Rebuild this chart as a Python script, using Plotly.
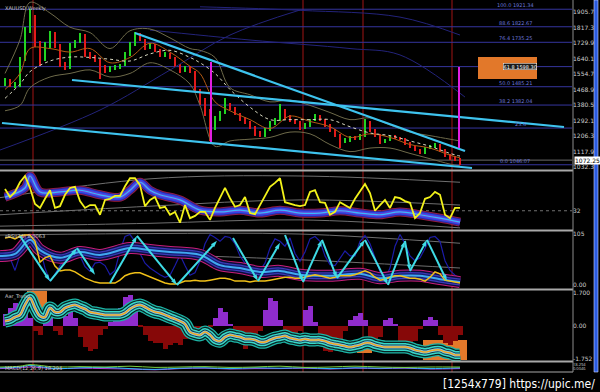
import plotly.graph_objects as go

W, H = 600, 392
XR = [-1, 113.4]

def py(px):
    return 1 - px / H

# ---------------- main price panel (weekly XAUUSD, one entry per bar) ----------------
opens = [1500, 1520, 1495, 1490, 1640, 1800, 1880, 1720, 1645, 1715, 1785, 1715, 1610, 1595, 1715, 1740,
         1770, 1665, 1655, 1630, 1595, 1578, 1588, 1592, 1610, 1668, 1722, 1772, 1748, 1702, 1718, 1692,
         1660, 1668, 1648, 1608, 1578, 1592, 1568, 1462, 1398, 1352, 1255, 1308, 1338, 1382, 1362, 1332,
         1308, 1282, 1255, 1228, 1212, 1242, 1278, 1300, 1355, 1312, 1300, 1285, 1255, 1268, 1296, 1318,
         1300, 1268, 1238, 1212, 1178, 1188, 1202, 1192, 1212, 1282, 1238, 1212, 1172, 1188, 1205, 1198,
         1192, 1165, 1148, 1126, 1115, 1142, 1148, 1158, 1126, 1098, 1088, 1078]
closes = [1520, 1495, 1500, 1635, 1800, 1890, 1720, 1640, 1720, 1790, 1720, 1605, 1590, 1720, 1735, 1775,
          1665, 1650, 1635, 1590, 1580, 1590, 1590, 1605, 1665, 1720, 1775, 1750, 1700, 1720, 1690, 1665,
          1665, 1650, 1605, 1580, 1590, 1570, 1465, 1400, 1355, 1250, 1310, 1340, 1380, 1365, 1335, 1310,
          1285, 1258, 1225, 1215, 1240, 1280, 1298, 1360, 1310, 1298, 1287, 1258, 1270, 1298, 1315, 1298,
          1270, 1240, 1215, 1180, 1185, 1200, 1195, 1215, 1280, 1240, 1215, 1175, 1185, 1200, 1200, 1195,
          1168, 1145, 1128, 1117, 1140, 1145, 1160, 1128, 1100, 1085, 1075, 1072]
highs = [1535, 1530, 1510, 1650, 1820, 1921, 1890, 1740, 1735, 1800, 1795, 1725, 1625, 1730, 1750, 1790,
         1780, 1680, 1665, 1640, 1605, 1600, 1605, 1615, 1680, 1735, 1795, 1785, 1755, 1730, 1725, 1700,
         1680, 1675, 1655, 1615, 1600, 1600, 1575, 1475, 1420, 1360, 1320, 1350, 1420, 1395, 1370, 1340,
         1315, 1290, 1262, 1235, 1255, 1290, 1310, 1390, 1360, 1325, 1305, 1292, 1280, 1305, 1330, 1325,
         1305, 1275, 1245, 1220, 1195, 1208, 1210, 1222, 1305, 1290, 1245, 1220, 1192, 1208, 1212, 1205,
         1198, 1172, 1152, 1132, 1148, 1155, 1168, 1165, 1132, 1105, 1095, 1085]
lows = [1490, 1485, 1478, 1485, 1630, 1790, 1710, 1600, 1630, 1705, 1705, 1595, 1580, 1585, 1705, 1730,
        1655, 1640, 1625, 1530, 1565, 1570, 1580, 1585, 1600, 1660, 1715, 1740, 1690, 1695, 1680, 1655,
        1650, 1640, 1595, 1565, 1570, 1560, 1455, 1380, 1320, 1180, 1240, 1295, 1330, 1355, 1325, 1295,
        1275, 1245, 1210, 1200, 1205, 1235, 1270, 1290, 1300, 1285, 1275, 1240, 1250, 1260, 1290, 1290,
        1260, 1230, 1200, 1140, 1170, 1175, 1185, 1185, 1205, 1230, 1205, 1165, 1170, 1180, 1190, 1185,
        1160, 1138, 1122, 1108, 1105, 1132, 1140, 1120, 1090, 1075, 1065, 1046]
bars = list(range(len(closes)))

# indicator lines on the price panel (coarse samples)
ind_x = [0, 3, 5, 9, 13, 17, 21, 25, 29, 33, 37, 39, 42, 45, 49, 53, 57, 61, 65, 69, 73, 77, 81, 85, 89, 91]
bb_upper = [1560, 1750, 1960, 1900, 1820, 1790, 1700, 1800, 1810, 1760, 1700, 1690, 1650, 1480, 1440, 1400,
            1410, 1380, 1340, 1300, 1310, 1270, 1230, 1210, 1190, 1180]
bb_lower = [1350, 1380, 1480, 1540, 1560, 1580, 1540, 1560, 1620, 1580, 1500, 1380, 1150, 1180, 1190, 1200,
            1230, 1220, 1160, 1120, 1140, 1140, 1110, 1080, 1050, 1040]
ma_slow = [1420, 1500, 1570, 1630, 1652, 1650, 1640, 1630, 1670, 1690, 1650, 1620, 1560, 1470, 1370, 1300,
           1300, 1300, 1300, 1260, 1225, 1210, 1180, 1150, 1110, 1095]
ma_fast = [1470, 1560, 1700, 1700, 1680, 1700, 1620, 1650, 1730, 1680, 1600, 1560, 1400, 1350, 1300, 1250,
           1320, 1290, 1260, 1200, 1220, 1200, 1160, 1140, 1100, 1085]

navy_a_x = [-1, 19, 33, 45, 59]
navy_a = [1129, 1354, 1579, 1776, 1917]
navy_b_x = [39, 59, 79, 91]
navy_b = [1935, 1915, 1877, 1776]
navy_c_x = [29, 49, 69, 79, 92]
navy_c = [1804, 1748, 1700, 1664, 1427]

fib_pct = ["100.0", "88.6", "76.4", "61.8", "50.0", "38.2", "23.6", "0.0"]
fib_price = [1921.34, 1822.67, 1735.25, 1598.30, 1485.21, 1382.04, 1252.63, 1046.07]
fib_show_price = [True, True, True, True, True, True, False, True]

# trend lines: (x0, y0, x1, y1) in bars / price
trend_lines = [(26, 1787.5, 92, 1123.5),
               (13.4, 1523.1, 111.8, 1258.6),
               (-0.6, 1281.1, 93.4, 1027.9)]
magenta_lines = [(41.2, 1624, 1174), (90.8, 1596, 1140)]
red_vlines = [5.6, 59.6, 71.6, 89.4]
target_box = (94.6, 106.4, 1528.7, 1652.5)
last_price = 1072.25

price_ticks = [1905.70, 1817.30, 1729.90, 1640.10, 1554.70, 1468.90, 1380.50, 1292.10, 1206.30, 1117.90, 1032.30]

# ---------------- panel 2 oscillator ----------------
osc_yellow = [70, 56, 65, 82, 93, 72, 44, 37, 53, 68, 37, 40, 60, 72, 74, 49, 37, 42, 42, 25, 51, 53, 58, 58,
              75, 89, 89, 77, 40, 51, 56, 37, 39, 25, 30, 11, 42, 19, 23, 30, 30, 16, 37, 54, 72, 54, 39, 42,
              56, 28, 26, 42, 58, 74, 81, 89, 47, 44, 42, 40, 42, 65, 68, 47, 46, 25, 30, 47, 42, 37, 53, 65,
              79, 63, 32, 42, 51, 37, 56, 54, 49, 46, 19, 28, 53, 56, 65, 60, 25, 19, 37, 37]
osc_band_x = [0, 4, 5, 7, 11, 15, 19, 23, 25, 27, 29, 31, 35, 39, 43, 47, 51, 55, 59, 63, 67, 71, 75, 79, 83, 87, 91]
osc_band = [56, 72, 93, 65, 65, 68, 60, 56, 68, 82, 68, 60, 51, 33, 30, 33, 28, 33, 28, 28, 32, 28, 25, 30, 25, 19, 12]
osc_chan_x = [-1, 29, 59, 91]
osc_chan_top = [55, 88, 93, 82]
osc_chan_mid = [25, 40, 51, 42]
osc_chan_bot = [5, 10, 16, 2]
osc_level = 32

# ---------------- panel 3 sRSI ----------------
srsi_navy = [49, 56, 30, 62, 78, 98, 100, 75, 35, 8, 22, 40, 52, 65, 76, 60, 38, 28, 45, 47, 40, 21, 30, 70,
             100, 104, 90, 65, 45, 35, 28, 21, 16, 20, 40, 62, 40, 20, 25, 49, 85, 104, 98, 90, 100, 98, 85, 60,
             45, 28, 22, 30, 45, 76, 95, 90, 80, 97, 65, 49, 68, 95, 100, 90, 60, 42, 40, 56, 70, 60, 60, 90,
             102, 85, 55, 28, 12, 35, 80, 104, 85, 60, 50, 56, 75, 98, 100, 90, 50, 30, 20, 14]
srsi_gold = [97, 99, 95, 101, 103, 103, 90, 47, 56, 60, 39, 29, 31, 31, 27, 21, 14, 10, 6, 4, 4, 4, 4, 10,
             19, 23, 25, 25, 21, 16, 12, 8, 4, 2, 2, 4, 8, 8, 10, 8, 8, 10, 12, 14, 14, 12, 8, 8, 8, 6, 8, 8,
             8, 10, 12, 14, 16, 16, 14, 14, 16, 19, 21, 19, 16, 14, 16, 19, 19, 19, 21, 25, 29, 25, 16, 10, 12,
             16, 19, 19, 16, 14, 14, 12, 8, 16, 27, 23, 10, 8, 6, 4]
srsi_band_x = [-1, 2, 5, 7, 11, 15, 19, 25, 29, 33, 39, 43, 47, 51, 55, 59, 65, 71, 75, 79, 83, 87, 91]
srsi_band = [60, 64, 93, 72, 56, 68, 62, 76, 72, 68, 62, 41, 35, 27, 29, 21, 19, 23, 14, 19, 19, 12, 6]
zig_x = [3, 9, 14.4, 18, None, 21, 26.4, 34.4, 42.4, None, 45.6, 50.6, 55, None,
         56, 59.6, 63.4, 66.4, 72, 76.6, 80, 81, 84.4, 88.4]
zig_y = [101, 8, 76, 21, None, 4, 101, 0, 91, None, 97, 8, 87, None,
         103, 6, 93, 14, 93, 0, 91, 29, 93, 8]
srsi_chan_x = [-1, 29, 59, 91]
srsi_chan_top = [103, 106, 105, 86]
srsi_chan_mid_x = [39, 59, 91]
srsi_chan_mid = [60, 52, 35]

# ---------------- panel 4 trend histogram ----------------
trend_hist = [0.6, 0.9, 1.15, 1.0, 0.7, 0.4, -0.3, -0.5, 0.3, 0.5, -0.3, -0.5, 0.5, 1.0, 0.4, -0.6, -1.1, -1.3,
              -1.2, -0.5, -0.2, 0.2, 0.4, 0.9, 1.5, 1.6, 0.8, -0.1, -0.5, -0.8, -0.9, -0.9, -1.2, -1.0, -0.9,
              -1.0, -0.7, -0.5, -0.4, -0.6, -0.3, -0.1, 0.4, 0.9, 0.7, 0.1, -0.4, -0.9, -1.2, -1.0, -0.7, -0.3,
              0.8, 1.45, 1.3, 0.3, -0.5, -0.6, -0.5, -0.3, 0.8, 1.0, 0.2, -1.0, -1.3, -1.4, -1.2, -0.9, -0.3,
              0.3, 0.5, 0.65, 0.3, -0.6, -0.8, -0.6, 0.3, 0.4, 0.1, -0.8, -1.0, -1.0, -0.8, -0.2, 0.3, 0.45,
              0.3, -0.5, -0.9, -1.0, -0.8, -0.5]
trend_line = [0.23, 0.29, 0.44, 0.55, 1.07, 1.43, 0.91, 0.49, 0.44, 0.91, 0.70, 0.70, 0.91, 1.01, 1.07, 0.96,
              0.86, 0.70, 0.65, 0.60, 0.55, 0.55, 0.55, 0.55, 0.65, 0.86, 1.01, 1.07, 0.96, 0.81, 0.70, 0.65,
              0.55, 0.44, 0.34, 0.23, 0.08, -0.34, -0.44, -0.49, -0.34, -0.49, -0.75, -0.81, -0.60, -0.49,
              -0.55, -0.60, -0.70, -0.70, -0.75, -0.86, -0.86, -0.75, -0.65, -0.60, -0.55, -0.65, -0.70, -0.75,
              -0.70, -0.75, -0.75, -0.75, -0.81, -0.91, -0.96, -1.01, -1.07, -1.12, -1.07, -1.01, -0.91, -0.91,
              -1.01, -1.07, -1.12, -1.12, -1.12, -1.12, -1.12, -1.17, -1.27, -1.33, -1.38, -1.33, -1.27, -1.27,
              -1.38, -1.43, -1.53, -1.53]
trend_boxes = [(4.4, 8.4, 0.75, 1.9), (70.4, 73.4, -1.43, -0.91), (83.6, 92.4, -1.79, -0.75)]

# ---------------- panel 5 ----------------
p5_x = [-1, 3, 5, 10, 15, 20, 25, 30, 35, 40, 45, 50, 55, 60, 65, 70, 75, 80, 85, 91]
p5_green = [5, 6, 8, 5, 5.5, 5, 6, 4.5, 5, 5.5, 4.5, 5, 6, 4.5, 5, 6, 5, 4.5, 5, 5]
p5_cyan = [4, 5, 7, 3, 4, 4.5, 3, 2, 3.5, 4, 3, 4, 3.5, 4, 3, 4, 3.5, 4, 3, 4]
p5_violet = [3, 4, 5, 3, 3.5, 3, 2.5, 1.5, 3, 3.5, 2.5, 3, 3, 3.5, 2.5, 3.5, 3, 3.5, 2.5, 3]

GREEN, RED = "#22d422", "#e21a1a"
# ======================================================================
fig = go.Figure()

# main panel
for xs, ys in [(navy_a_x, navy_a), (navy_b_x, navy_b), (navy_c_x, navy_c)]:
    fig.add_trace(go.Scatter(x=xs, y=ys, mode="lines", line=dict(color="#23237a", width=1, shape="spline"),
                             xaxis="x", yaxis="y", hoverinfo="skip"))
for ys in (bb_upper, bb_lower):
    fig.add_trace(go.Scatter(x=ind_x, y=ys, mode="lines", line=dict(color="#6e6a4a", width=1, shape="spline"),
                             xaxis="x", yaxis="y", hoverinfo="skip"))
fig.add_trace(go.Scatter(x=ind_x, y=ma_fast, mode="lines", line=dict(color="#b35a14", width=1, shape="spline"),
                         xaxis="x", yaxis="y", hoverinfo="skip"))
fig.add_trace(go.Scatter(x=ind_x, y=ma_slow, mode="lines",
                         line=dict(color="#d8d8c0", width=1, dash="dot", shape="spline"),
                         xaxis="x", yaxis="y", hoverinfo="skip"))
candle_cols = [GREEN if c >= o else RED for o, c in zip(opens, closes)]
# wicks and bodies as floating bars
fig.add_trace(go.Bar(x=bars, y=[h - l for h, l in zip(highs, lows)], base=lows, width=0.2,
                     marker=dict(color=candle_cols, line=dict(width=0)), xaxis="x", yaxis="y", hoverinfo="skip"))
fig.add_trace(go.Bar(x=bars, y=[max(abs(c - o), 3) for o, c in zip(opens, closes)],
                     base=[min(o, c) for o, c in zip(opens, closes)], width=0.55,
                     marker=dict(color=candle_cols, line=dict(width=0)), xaxis="x", yaxis="y", hoverinfo="skip"))

# panel 2
for xs, ys in [(osc_chan_x, osc_chan_top), (osc_chan_x, osc_chan_mid), (osc_chan_x, osc_chan_bot)]:
    fig.add_trace(go.Scatter(x=xs, y=ys, mode="lines", line=dict(color="#6f6f6f", width=1, shape="spline"),
                             xaxis="x", yaxis="y2", hoverinfo="skip"))
for w, col in [(9, "#a01c38"), (7.5, "#3a2290"), (5.5, "#2a46e8"), (3, "#6a40d0"), (1.2, "#38b8ff")]:
    fig.add_trace(go.Scatter(x=osc_band_x, y=osc_band, mode="lines",
                             line=dict(color=col, width=w, shape="spline"),
                             xaxis="x", yaxis="y2", hoverinfo="skip"))
fig.add_trace(go.Scatter(x=bars, y=osc_yellow, mode="lines", line=dict(color="#f2f21a", width=1.8),
                         xaxis="x", yaxis="y2", hoverinfo="skip"))

# panel 3
fig.add_trace(go.Scatter(x=srsi_chan_x, y=srsi_chan_top, mode="lines",
                         line=dict(color="#6f6f6f", width=1, shape="spline"), xaxis="x", yaxis="y3", hoverinfo="skip"))
fig.add_trace(go.Scatter(x=srsi_chan_mid_x, y=srsi_chan_mid, mode="lines",
                         line=dict(color="#6f6f6f", width=1, shape="spline"), xaxis="x", yaxis="y3", hoverinfo="skip"))
fig.add_trace(go.Scatter(x=bars, y=srsi_navy, mode="lines", line=dict(color="#1c1ca8", width=1.2),
                         xaxis="x", yaxis="y3", hoverinfo="skip"))
for w, col in [(12, "#c81e78"), (10, "#0c0c38"), (7, "#3a3ab8"), (4.5, "#141e70"), (2, "#40a8f0")]:
    fig.add_trace(go.Scatter(x=srsi_band_x, y=srsi_band, mode="lines",
                             line=dict(color=col, width=w, shape="spline"),
                             xaxis="x", yaxis="y3", hoverinfo="skip"))
fig.add_trace(go.Scatter(x=bars, y=srsi_gold, mode="lines", line=dict(color="#f0c018", width=1.5),
                         xaxis="x", yaxis="y3", hoverinfo="skip"))
fig.add_trace(go.Scatter(x=zig_x, y=zig_y, mode="lines+markers", connectgaps=False,
                         line=dict(color="#3fdce6", width=2),
                         marker=dict(symbol="arrow", angleref="previous", size=7, color="#3fdce6"),
                         xaxis="x", yaxis="y3", hoverinfo="skip"))

# panel 4
fig.add_trace(go.Bar(x=bars, y=trend_hist, width=1.0,
                     marker=dict(color=["#8f2ccc" if v >= 0 else "#860808" for v in trend_hist], line=dict(width=0)),
                     xaxis="x", yaxis="y4", hoverinfo="skip"))
for w, col in [(13, "#1db5a6"), (10.5, "#082424"), (8, "#38d8c8"), (5, "#163e4c"), (3, "#7fd0f0")]:
    fig.add_trace(go.Scatter(x=bars, y=trend_line, mode="lines", line=dict(color=col, width=w, shape="spline"),
                             xaxis="x", yaxis="y4", hoverinfo="skip"))
fig.add_trace(go.Scatter(x=bars, y=trend_line, mode="lines", line=dict(color="#f5a623", width=1.5, shape="spline"),
                         xaxis="x", yaxis="y4", hoverinfo="skip"))

# panel 5
for ys, col in [(p5_violet, "#b040e0"), (p5_cyan, "#30b8ff"), (p5_green, "#7ad040")]:
    fig.add_trace(go.Scatter(x=p5_x, y=ys, mode="lines", line=dict(color=col, width=1, shape="spline"),
                             xaxis="x", yaxis="y5", hoverinfo="skip"))

# ---------------- shapes ----------------
shapes = []
for b in red_vlines:
    shapes.append(dict(type="line", xref="x", yref="paper", x0=b, x1=b, y0=py(372), y1=1,
                       line=dict(color="#a01414", width=1), layer="below"))
for p in fib_price:
    shapes.append(dict(type="line", xref="x", yref="y", x0=XR[0], x1=XR[1], y0=p, y1=p,
                       line=dict(color="#35359e", width=1), layer="below"))
shapes.append(dict(type="line", xref="x", yref="y", x0=XR[0], x1=XR[1], y0=last_price, y1=last_price,
                   line=dict(color="#6a6a6a", width=1), layer="below"))
for (x0, y0, x1, y1) in trend_lines:
    shapes.append(dict(type="line", xref="x", yref="y", x0=x0, y0=y0, x1=x1, y1=y1,
                       line=dict(color="#3ec3ee", width=2.2)))
for (xm, y0, y1) in magenta_lines:
    shapes.append(dict(type="line", xref="x", yref="y", x0=xm, x1=xm, y0=y0, y1=y1,
                       line=dict(color="#e11ee1", width=2)))
bx0, bx1, by0, by1 = target_box
shapes.append(dict(type="rect", xref="x", yref="y", x0=bx0, x1=bx1, y0=by0, y1=by1,
                   fillcolor="#e2782a", line=dict(width=0)))
shapes.append(dict(type="line", xref="x", yref="y2", x0=XR[0], x1=XR[1], y0=osc_level, y1=osc_level,
                   line=dict(color="#707070", width=1, dash="dot"), layer="below"))
for (x0, x1, y0, y1) in trend_boxes:
    shapes.append(dict(type="rect", xref="x", yref="y4", x0=x0, x1=x1, y0=y0, y1=y1,
                       fillcolor="#e2782a", line=dict(width=0), layer="below"))
# panel separators
for pxy, wdt in [(170.5, 2), (230.5, 2), (289.5, 2), (361.5, 2), (372, 1)]:
    shapes.append(dict(type="line", xref="paper", yref="paper", x0=0, x1=573 / W, y0=py(pxy), y1=py(pxy),
                       line=dict(color="#a8a8a8", width=wdt)))
shapes.append(dict(type="line", xref="paper", yref="paper", x0=573 / W, x1=573 / W, y0=py(372), y1=1,
                   line=dict(color="#8c8c8c", width=1)))
shapes.append(dict(type="rect", xref="paper", yref="paper", x0=594 / W, x1=598 / W, y0=py(372), y1=1,
                   fillcolor="#2a5be0", line=dict(color="#d0d8ff", width=0.6)))

# ---------------- annotations ----------------
ann = []
for pct, pr, show in zip(fib_pct, fib_price, fib_show_price):
    txt = f"{pct} {pr:.2f}" if show else pct
    if pct == "61.8":
        ann.append(dict(x=103, y=pr, xref="x", yref="y", text=txt, showarrow=False, yanchor="middle",
                        font=dict(size=5, color="#ffffff", family="DejaVu Sans"),
                        bgcolor="#1a1a1a", bordercolor="#ffffff", borderwidth=0.5, borderpad=0))
    else:
        ann.append(dict(x=102 if show else 103, y=pr, xref="x", yref="y", text=txt, showarrow=False,
                        yanchor="bottom", yshift=-1, font=dict(size=5, color="#6c78dc", family="DejaVu Sans")))
ann.append(dict(x=574 / W, y=last_price, xref="paper", yref="y", text=f"{last_price:.2f}", showarrow=False,
                xanchor="left", yanchor="middle", bgcolor="#ffffff", borderpad=0,
                font=dict(size=6, color="#000000", family="DejaVu Sans")))
labels = [("XAUUSD,Weekly", 3), ("sRSI(14) 8.0063", 231), ("Aar_Trend", 291), ("MACD(12,26,9) 18.294", 363)]
for t, pxy in labels:
    ann.append(dict(x=3 / W, y=py(pxy), xref="paper", yref="paper", text=t, showarrow=False,
                    xanchor="left", yanchor="top", font=dict(size=5, color="#c8c8c8", family="DejaVu Sans")))
ann.append(dict(x=597 / W, y=py(384), xref="paper", yref="paper", text="[1254x779] https://upic.me/",
                showarrow=False, xanchor="right", yanchor="middle",
                font=dict(size=12, color="#ffffff", family="DejaVu Sans Condensed, Liberation Sans Narrow, DejaVu Sans")))

tickfont = dict(size=6, color="#cfcfcf", family="DejaVu Sans")
common_y = dict(side="right", showgrid=False, zeroline=False, ticks="", tickfont=tickfont,
                anchor="x", automargin=False, fixedrange=True)

fig.update_layout(
    width=W, height=H, margin=dict(l=0, r=0, t=0, b=0),
    paper_bgcolor="#000000", plot_bgcolor="#000000", showlegend=False, barmode="overlay",
    xaxis=dict(domain=[0, 572 / W], range=XR, showgrid=False, zeroline=False, showticklabels=False,
               anchor="y", fixedrange=True),
    yaxis=dict(domain=[py(170), 1], range=[1016.6, 1973.2], tickvals=price_ticks,
               ticktext=[f"{v:.2f}" for v in price_ticks], **common_y),
    yaxis2=dict(domain=[py(229), py(172)], range=[0, 100], tickvals=[osc_level], ticktext=["32"], **common_y),
    yaxis3=dict(domain=[py(288), py(232)], range=[-6.2, 109.2], tickvals=[105, 0], ticktext=["105", "0.00"],
                **common_y),
    yaxis4=dict(domain=[py(361), py(291)], range=[-1.846, 1.794], tickvals=[1.7, 0, -1.752],
                ticktext=["1.700", "0.00", "-1.752"], **common_y),
    yaxis5=dict(domain=[py(371), py(363)], range=[0, 10], tickvals=[7.5, 2.5], ticktext=["18.294", "0.0046"],
                **{k: v for k, v in common_y.items() if k != "tickfont"}, tickfont=dict(size=4, color="#cfcfcf")),
    shapes=shapes, annotations=ann, bargap=0,
)

fig.write_html("out.html", config={"displayModeBar": False})
